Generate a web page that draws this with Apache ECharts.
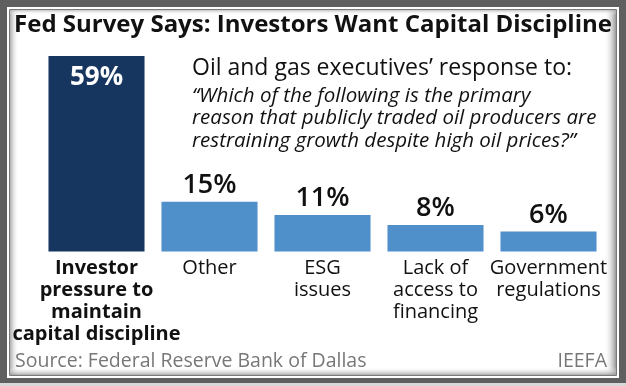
<!DOCTYPE html>
<html><head><meta charset="utf-8">
<script src="https://cdn.jsdelivr.net/npm/echarts@6/dist/echarts.min.js"></script>
<style>html,body{margin:0;padding:0;background:#fff}#c{width:626px;height:386px}</style>
</head><body><div id="c"></div>
<script>
const categories = ['Investor\npressure to\nmaintain\ncapital discipline', 'Other', 'ESG\nissues', 'Lack of\naccess to\nfinancing', 'Government\nregulations'];
const values = [59, 15, 11, 8, 6];
const valueLabels = ['59%', '15%', '11%', '8%', '6%'];
const titleText = 'Fed Survey Says: Investors Want Capital Discipline';
const subtitleLines = ['Oil and gas executives\u2019 response to:'];
const questionLines = ['\u201CWhich of the following is the primary', 'reason that publicly traded oil producers are', 'restraining growth despite high oil prices?\u201D'];
const sourceText = 'Source: Federal Reserve Bank of Dallas';
const brandText = 'IEEFA';

const FONT = '"Open Sans", sans-serif';
const chart = echarts.init(document.getElementById('c'), null, {renderer: 'canvas'});

const graphics = [
  {type: 'rect', z: -10, shape: {x: 0, y: 0, width: 626, height: 386}, style: {fill: '#5f5f5f'}},
  {type: 'rect', z: -10, shape: {x: 0, y: 383, width: 626, height: 3}, style: {fill: '#d8d8d8'}},
  {type: 'rect', z: -9, shape: {x: 7, y: 7, width: 612, height: 371}, style: {fill: '#ffffff'}},
  {type: 'rect', z: -8, shape: {x: 9.5, y: 9.5, width: 607, height: 366}, style: {fill: '#ffffff', stroke: '#7a7a7a', lineWidth: 1}},
  {type: 'rect', z: -7, shape: {x: 10, y: 10, width: 9, height: 365}, style: {fill: new echarts.graphic.LinearGradient(0, 0, 1, 0, [{offset: 0, color: 'rgba(150,150,150,0.8)'}, {offset: 1, color: 'rgba(255,255,255,0)'}])}},
  {type: 'rect', z: -7, shape: {x: 604, y: 10, width: 12, height: 365}, style: {fill: new echarts.graphic.LinearGradient(0, 0, 1, 0, [{offset: 0, color: 'rgba(255,255,255,0)'}, {offset: 1, color: 'rgba(140,140,140,0.9)'}])}},
  {type: 'rect', z: -7, shape: {x: 10, y: 10, width: 606, height: 5}, style: {fill: new echarts.graphic.LinearGradient(0, 0, 0, 1, [{offset: 0, color: 'rgba(170,170,170,0.7)'}, {offset: 1, color: 'rgba(255,255,255,0)'}])}},
  {type: 'rect', z: -7, shape: {x: 10, y: 367, width: 606, height: 8}, style: {fill: new echarts.graphic.LinearGradient(0, 0, 0, 1, [{offset: 0, color: 'rgba(255,255,255,0)'}, {offset: 1, color: 'rgba(150,150,150,0.8)'}])}},
  {type: 'text', x: 313, y: 25, style: {text: titleText, font: 'bold 24px ' + FONT, fill: '#111', align: 'center', verticalAlign: 'middle'}},
  {type: 'text', x: 192, y: 68, style: {text: subtitleLines[0], font: '23px ' + FONT, fill: '#111', align: 'left', verticalAlign: 'middle'}},
  {type: 'text', x: 15, y: 361, style: {text: sourceText, font: '19.5px ' + FONT, fill: '#777', align: 'left', verticalAlign: 'middle'}},
  {type: 'text', x: 607, y: 361, style: {text: brandText, font: '19.5px ' + FONT, fill: '#777', align: 'right', verticalAlign: 'middle'}}
];
questionLines.forEach((t, i) => {
  graphics.push({type: 'text', x: 192, y: 96 + i * 22.5, style: {text: t, font: 'italic 20.5px ' + FONT, fill: '#111', align: 'left', verticalAlign: 'middle'}});
});

chart.setOption({
  animation: false,
  grid: {left: 40, right: 21, top: 56, bottom: 134.5, containLabel: false},
  xAxis: {
    type: 'category', data: categories,
    axisLine: {show: false}, axisTick: {show: false},
    axisLabel: {
      interval: 0, margin: 6, lineHeight: 22,
      fontFamily: FONT, fontSize: 20, color: '#111',
      formatter: (v, i) => i === 0 ? '{b|' + v.split('\n').join('}\n{b|') + '}' : v,
      rich: {b: {fontWeight: 'bold', fontFamily: FONT, fontSize: 20, lineHeight: 22, color: '#111'}}
    }
  },
  yAxis: {type: 'value', min: 0, max: 59, show: false, splitLine: {show: false}},
  series: [{
    type: 'bar', barCategoryGap: '15%',
    data: values.map((v, i) => ({
      value: v,
      itemStyle: {color: i === 0 ? '#17365f' : '#4f8fca'},
      label: i === 0
        ? {show: true, position: 'insideTop', distance: 9, color: '#fff', fontWeight: 'bold', fontSize: 26, fontFamily: FONT, formatter: () => valueLabels[i]}
        : {show: true, position: 'top', distance: 3, color: '#111', fontWeight: 600, fontSize: 27, fontFamily: FONT, formatter: () => valueLabels[i]}
    }))
  }],
  graphic: graphics
});
</script></body></html>
